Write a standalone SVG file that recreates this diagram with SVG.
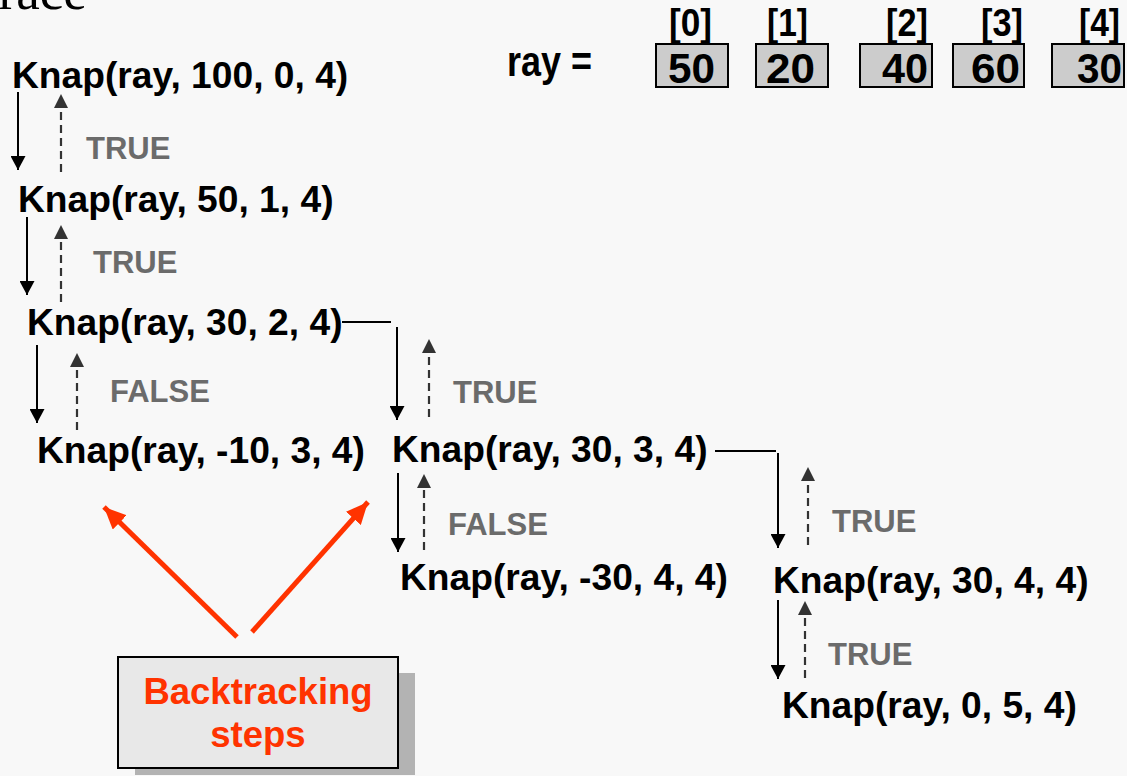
<svg xmlns="http://www.w3.org/2000/svg" width="1127" height="776" viewBox="0 0 1127 776">
<style>
.node{font-family:"Liberation Sans",Arial,sans-serif;font-weight:bold;font-size:37.2px;fill:#000}
.lbl{font-family:"Liberation Sans",Arial,sans-serif;font-weight:bold;font-size:31px;fill:#6b6b6b}
.solid{stroke:#000;stroke-width:2;fill:none}
.dash{stroke:#333;stroke-width:2.2;fill:none;stroke-dasharray:8,5}
.red{stroke:#ff3300;stroke-width:5;fill:none}
.cell{fill:#cccccc;stroke:#000;stroke-width:2}
.num{font-family:"Liberation Sans",Arial,sans-serif;font-weight:bold;font-size:42px;fill:#000}
.idx{font-family:"Liberation Sans",Arial,sans-serif;font-weight:bold;font-size:38px;fill:#000}
</style>
<defs>
<marker id="ah" viewBox="0 0 14 15" refX="14" refY="7.5" markerWidth="14" markerHeight="15" markerUnits="userSpaceOnUse" orient="auto">
<path d="M0,0 L14,7.5 L0,15 z" fill="#000"/>
</marker>
<marker id="ahd" viewBox="0 0 14 14" refX="14" refY="7" markerWidth="14" markerHeight="14" markerUnits="userSpaceOnUse" orient="auto">
<path d="M0,0 L14,7 L0,14 z" fill="#333"/>
</marker>
<marker id="ahr" viewBox="0 0 22 20" refX="22" refY="10" markerWidth="22" markerHeight="20" markerUnits="userSpaceOnUse" orient="auto">
<path d="M0,0 L22,10 L0,20 z" fill="#ff3300"/>
</marker>
</defs>
<rect x="0" y="0" width="1127" height="776" fill="#f8f8f8"/>
<text x="-32" y="9" font-family="Liberation Serif,serif" font-size="53" fill="#000">Trace</text>

<g id="array">
<text x="507" y="76" class="num" textLength="85" lengthAdjust="spacingAndGlyphs">ray =</text>
<rect class="cell" x="656" y="44" width="72" height="43"/>
<rect class="cell" x="756" y="44" width="72" height="43"/>
<rect class="cell" x="860" y="44" width="72" height="43"/>
<rect class="cell" x="953" y="44" width="71" height="43"/>
<rect class="cell" x="1052" y="44" width="72" height="43"/>
<text class="num" x="668" y="83" textLength="47" lengthAdjust="spacingAndGlyphs">50</text>
<text class="num" x="766" y="83" textLength="49" lengthAdjust="spacingAndGlyphs">20</text>
<text class="num" x="882" y="83" textLength="46" lengthAdjust="spacingAndGlyphs">40</text>
<text class="num" x="971" y="83" textLength="49" lengthAdjust="spacingAndGlyphs">60</text>
<text class="num" x="1077" y="83" textLength="45" lengthAdjust="spacingAndGlyphs">30</text>
<text class="idx" x="669" y="36" textLength="43" lengthAdjust="spacingAndGlyphs">[0]</text>
<text class="idx" x="767" y="36" textLength="41" lengthAdjust="spacingAndGlyphs">[1]</text>
<text class="idx" x="886" y="36" textLength="42" lengthAdjust="spacingAndGlyphs">[2]</text>
<text class="idx" x="981" y="36" textLength="42" lengthAdjust="spacingAndGlyphs">[3]</text>
<text class="idx" x="1079" y="36" textLength="41" lengthAdjust="spacingAndGlyphs">[4]</text>
</g>

<g id="n1"><text class="node" x="12" y="88">Knap(ray, 100, 0, 4)</text></g>
<g id="n2"><text class="node" x="18" y="212">Knap(ray, 50, 1, 4)</text></g>
<g id="n3"><text class="node" x="27" y="335">Knap(ray, 30, 2, 4)</text></g>
<g id="n4"><text class="node" x="37" y="463">Knap(ray, -10, 3, 4)</text></g>
<g id="n5"><text class="node" x="392" y="462">Knap(ray, 30, 3, 4)</text></g>
<g id="n6"><text class="node" x="400" y="590">Knap(ray, -30, 4, 4)</text></g>
<g id="n7"><text class="node" x="773" y="593">Knap(ray, 30, 4, 4)</text></g>
<g id="n8"><text class="node" x="782" y="718">Knap(ray, 0, 5, 4)</text></g>

<g id="note">
<rect x="135" y="673" width="280" height="102" fill="#b3b3b3"/>
<rect x="118" y="657" width="280" height="111" fill="#e8e8e8" stroke="#000" stroke-width="2"/>
<text x="258" y="704" text-anchor="middle" font-family="Liberation Sans,Arial,sans-serif" font-weight="bold" font-size="36.5" fill="#ff3300">Backtracking</text>
<text x="258" y="747" text-anchor="middle" font-family="Liberation Sans,Arial,sans-serif" font-weight="bold" font-size="36.5" fill="#ff3300">steps</text>
</g>

<g id="connectors">
<line class="solid" x1="18" y1="92" x2="18" y2="170" marker-end="url(#ah)"/>
<line class="dash" x1="61" y1="172" x2="61" y2="94" marker-end="url(#ahd)"/>
<line class="solid" x1="27" y1="217" x2="27" y2="295" marker-end="url(#ah)"/>
<line class="dash" x1="61" y1="302" x2="61" y2="225" marker-end="url(#ahd)"/>
<line class="solid" x1="37" y1="345" x2="37" y2="423" marker-end="url(#ah)"/>
<line class="dash" x1="77" y1="430" x2="77" y2="353" marker-end="url(#ahd)"/>
<line class="solid" x1="342" y1="322" x2="391" y2="322"/>
<line class="solid" x1="397" y1="327" x2="397" y2="420" marker-end="url(#ah)"/>
<line class="dash" x1="429" y1="417" x2="429" y2="339" marker-end="url(#ahd)"/>
<line class="solid" x1="398" y1="473" x2="398" y2="552" marker-end="url(#ah)"/>
<line class="dash" x1="424" y1="550" x2="424" y2="474" marker-end="url(#ahd)"/>
<line class="solid" x1="715" y1="451" x2="776" y2="451"/>
<line class="solid" x1="778" y1="453" x2="778" y2="548" marker-end="url(#ah)"/>
<line class="dash" x1="808" y1="545" x2="808" y2="467" marker-end="url(#ahd)"/>
<line class="solid" x1="778" y1="600" x2="778" y2="679" marker-end="url(#ah)"/>
<line class="dash" x1="805" y1="678" x2="805" y2="601" marker-end="url(#ahd)"/>
<line class="red" x1="237" y1="637" x2="104" y2="507" marker-end="url(#ahr)"/>
<line class="red" x1="252" y1="632" x2="368" y2="502" marker-end="url(#ahr)"/>
<text class="lbl" x="86" y="159">TRUE</text>
<text class="lbl" x="93" y="273">TRUE</text>
<text class="lbl" x="110" y="402">FALSE</text>
<text class="lbl" x="453" y="403">TRUE</text>
<text class="lbl" x="448" y="535">FALSE</text>
<text class="lbl" x="832" y="532">TRUE</text>
<text class="lbl" x="828" y="665">TRUE</text>
</g>
</svg>
